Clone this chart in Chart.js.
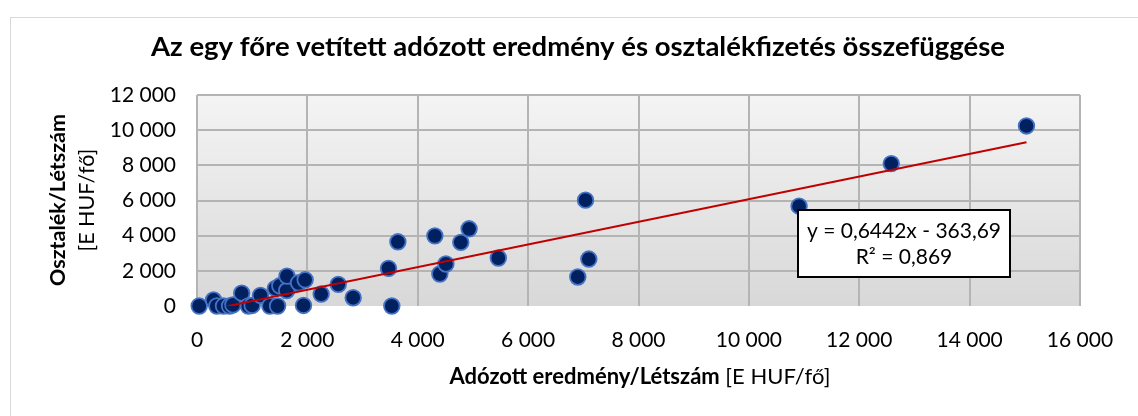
<!DOCTYPE html>
<html><head><meta charset="utf-8">
<script src="https://cdn.jsdelivr.net/npm/chart.js@4/dist/chart.umd.min.js"></script>
<style>html,body{margin:0;padding:0;background:#fff;}canvas{display:block;}</style>
</head><body>
<canvas id="c" width="1138" height="416"></canvas>
<script>
// Data (E HUF/fő)
const profitPerHead = [40,300,360,480,590,650,810,930,1000,1150,1320,1460,1420,1500,1625,1630,1840,1960,1930,2250,2560,2830,3470,3530,3640,4310,4400,4510,4780,4930,5460,6900,7040,7100,10910,12580,15030];
const dividendPerHead = [0,340,0,0,0,60,730,0,30,600,0,0,1000,1150,880,1700,1320,1490,30,680,1230,470,2140,0,3650,3990,1820,2390,3620,4390,2730,1650,6020,2670,5680,8100,10240];
const trendSlope = 0.6442;
const trendIntercept = -363.69;
const xTicks = [0,2000,4000,6000,8000,10000,12000,14000,16000];
const yTicks = [0,2000,4000,6000,8000,10000,12000];
const chartTitle = 'Az egy főre vetített adózott eredmény és osztalékfizetés összefüggése';
const xTitleBold = 'Adózott eredmény/Létszám';
const xTitleRest = ' [E HUF/fő]';
const yTitleBold = 'Osztalék/Létszám';
const yTitleRest = '[E HUF/fő]';
const eqLine1 = 'y = 0,6442x - 363,69';
const eqLine2 = 'R² = 0,869';

const FONT = 'Lato, "Open Sans", sans-serif';
const fmt = v => String(v).replace(/\B(?=(\d{3})+(?!\d))/g, ' ');

const points = profitPerHead.map((x,i)=>({x, y: dividendPerHead[i]}));
const xmin = Math.min(...profitPerHead), xmax = Math.max(...profitPerHead);
const trend = [xmin, xmax].map(x => ({x, y: trendSlope*x + trendIntercept}));

const deco = {
  id: 'deco',
  beforeDraw(chart){
    const {ctx, chartArea:a} = chart;
    ctx.save();
    ctx.fillStyle = '#fff';
    ctx.fillRect(0,0,chart.width,chart.height);
    ctx.strokeStyle = '#d9d9d9';
    ctx.lineWidth = 1;
    ctx.strokeRect(10.5, 17.5, chart.width+20, chart.height+20);
    const g = ctx.createLinearGradient(0,a.top,0,a.bottom);
    g.addColorStop(0,'#f4f4f4');
    g.addColorStop(1,'#d8d8d8');
    ctx.fillStyle = g;
    ctx.fillRect(a.left,a.top,a.right-a.left,a.bottom-a.top);
    ctx.restore();
  },
  afterDraw(chart){
    const {ctx} = chart;
    ctx.save();
    ctx.fillStyle = '#000';
    ctx.textBaseline = 'middle';
    // title
    ctx.font = 'bold 27.5px ' + FONT;
    ctx.textAlign = 'center';
    ctx.fillText(chartTitle, 578, 47);
    // x title
    ctx.font = 'bold 22px ' + FONT;
    const wb = ctx.measureText(xTitleBold).width;
    ctx.font = '22px ' + FONT;
    const wr = ctx.measureText(xTitleRest).width;
    let sx = 640 - (wb+wr)/2;
    ctx.textAlign = 'left';
    ctx.font = 'bold 22px ' + FONT;
    ctx.fillText(xTitleBold, sx, 377);
    ctx.font = '22px ' + FONT;
    ctx.fillText(xTitleRest, sx+wb, 377);
    // y title
    ctx.translate(0, 200);
    ctx.rotate(-Math.PI/2);
    ctx.textAlign = 'center';
    ctx.font = 'bold 21.5px ' + FONT;
    ctx.fillText(yTitleBold, 0, 58);
    ctx.font = '21.5px ' + FONT;
    ctx.fillText(yTitleRest, 0, 87);
    ctx.restore();
    // equation box
    ctx.save();
    ctx.fillStyle = '#fff';
    ctx.fillRect(798, 210, 212, 67);
    ctx.strokeStyle = '#000';
    ctx.lineWidth = 2;
    ctx.strokeRect(798, 210, 212, 67);
    ctx.fillStyle = '#000';
    ctx.font = '21px ' + FONT;
    ctx.textAlign = 'center';
    ctx.textBaseline = 'middle';
    ctx.fillText(eqLine1, 904, 231);
    ctx.fillText(eqLine2, 904, 257);
    ctx.restore();
  }
};

new Chart(document.getElementById('c'), {
  type: 'scatter',
  data: {
    datasets: [
      { type:'line', data: trend, borderColor:'#c00000', borderWidth:2, pointRadius:0, fill:false, order:0 },
      { data: points, backgroundColor:'#002060', borderColor:'#4472c4', borderWidth:1.8, pointRadius:7.8, pointHoverRadius:7.8, clip:false, order:1 }
    ]
  },
  options: {
    responsive:false, animation:false, devicePixelRatio:1,
    layout:{ padding:{ top:95, right:58, left:0, bottom:0 } },
    plugins:{ legend:{display:false}, tooltip:{enabled:false} },
    scales:{
      x:{ type:'linear', min:0, max:16000,
        afterBuildTicks: s => { s.ticks = xTicks.map(v=>({value:v})); },
        afterFit: s => { s.height = 110; },
        border:{display:false},
        grid:{ color:'#b4b4b4', lineWidth:2, drawTicks:false },
        ticks:{ padding:22, color:'#000', font:{family:FONT, size:21}, callback: v => fmt(v), maxRotation:0 }
      },
      y:{ min:0, max:12000,
        afterBuildTicks: s => { s.ticks = yTicks.map(v=>({value:v})); },
        afterFit: s => { s.width = 197; },
        border:{display:false},
        grid:{ color: c => c.tick && c.tick.value === 0 ? 'rgba(0,0,0,0)' : '#b4b4b4', lineWidth:2, drawTicks:false },
        ticks:{ padding:21, color:'#000', font:{family:FONT, size:21}, callback: v => fmt(v) }
      }
    }
  },
  plugins:[deco]
});
</script>
</body></html>
